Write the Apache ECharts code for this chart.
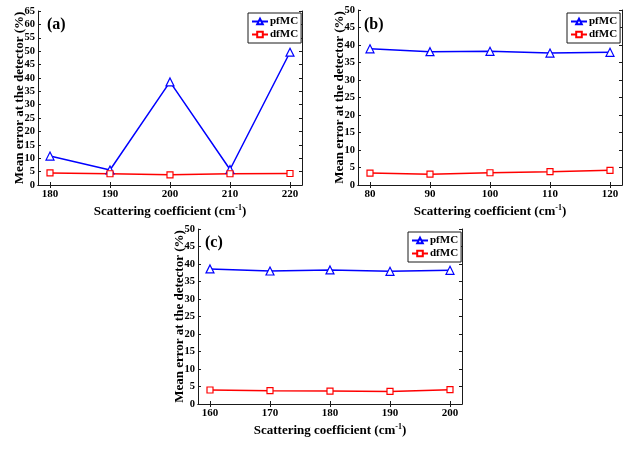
<!DOCTYPE html>
<html>
<head>
<meta charset="utf-8">
<script src="https://cdn.jsdelivr.net/npm/echarts@6/dist/echarts.min.js"></script>
<style>html,body{margin:0;padding:0;background:#fff}#c{width:635px;height:454px}</style>
</head>
<body>
<div id="c"></div>
<script>
// ---- data ----
var xA = [180, 190, 200, 210, 220];
var xB = [80, 90, 100, 110, 120];
var xC = [160, 170, 180, 190, 200];
var pfA = [10.8, 5.6, 38.5, 5.8, 49.6];
var dfA = [4.5, 4.2, 3.8, 4.2, 4.3];
var pfB = [38.9, 38.1, 38.2, 37.7, 37.9];
var dfB = [3.4, 3.1, 3.5, 3.8, 4.2];
var pfC = [38.6, 38.0, 38.3, 37.9, 38.2];
var dfC = [4.0, 3.8, 3.7, 3.6, 4.1];
var yTicksA = [0,5,10,15,20,25,30,35,40,45,50,55,60,65];
var yTicksBC = [0,5,10,15,20,25,30,35,40,45,50];
var panelLabels = ['(a)', '(b)', '(c)'];
var xTitle = 'Scattering coefficient (cm{sup|-1})';
var yTitle = 'Mean error at the detector (%)';

var FONT = '"Liberation Serif", "Times New Roman", serif';
var AX = '#1a1a1a';

function pairs(xs, ys) { return xs.map(function (x, i) { return [x, ys[i]]; }); }

var panels = [
  {xs: xA, pf: pfA, df: dfA, xmin: 178, xmax: 222, ymax: 65, yt: yTicksA,
   grid: {left: 38, top: 11, width: 264, height: 174}, leg: {left: 248, top: 13}, lab: {left: 47, top: 17}},
  {xs: xB, pf: pfB, df: dfB, xmin: 78, xmax: 122, ymax: 50, yt: yTicksBC,
   grid: {left: 358, top: 10, width: 264, height: 175}, leg: {left: 567, top: 13}, lab: {left: 364, top: 17}},
  {xs: xC, pf: pfC, df: dfC, xmin: 158, xmax: 202, ymax: 50, yt: yTicksBC,
   grid: {left: 198, top: 229, width: 264, height: 175}, leg: {left: 408, top: 232}, lab: {left: 205, top: 235}}
];

var grids = [], xAxes = [], yAxes = [], series = [], legends = [], titles = [];
panels.forEach(function (p, i) {
  grids.push(Object.assign({containLabel: false}, p.grid));
  var tick = {show: true, inside: true, length: 3, lineStyle: {color: AX, width: 1}};
  xAxes.push({
    type: 'value', gridIndex: i, min: p.xmin, max: p.xmax, position: 'bottom',
    axisLine: {show: true, lineStyle: {color: AX, width: 1}},
    axisTick: Object.assign({customValues: p.xs}, tick),
    axisLabel: {customValues: p.xs, color: '#000', fontFamily: FONT, fontWeight: 'bold', fontSize: 11, margin: 4},
    splitLine: {show: false},
    name: xTitle, nameLocation: 'middle', nameGap: 19, nameMoveOverlap: false,
    nameTextStyle: {color: '#000', fontFamily: FONT, fontWeight: 'bold', fontSize: 13,
      rich: {sup: {fontFamily: FONT, fontWeight: 'bold', fontSize: 8, color: '#000', verticalAlign: 'top', padding: [0, 0, 7, 0]}}}
  });
  xAxes.push({
    type: 'value', gridIndex: i, min: p.xmin, max: p.xmax, position: 'top',
    axisLine: {show: true, lineStyle: {color: AX, width: 1}},
    axisTick: Object.assign({customValues: p.xs}, tick),
    axisLabel: {show: false}, splitLine: {show: false}
  });
  yAxes.push({
    type: 'value', gridIndex: i, min: 0, max: p.ymax, interval: 5, position: 'left',
    axisLine: {show: true, lineStyle: {color: AX, width: 1}},
    axisTick: tick,
    axisLabel: {color: '#000', fontFamily: FONT, fontWeight: 'bold', fontSize: 10.5, margin: 3},
    splitLine: {show: false},
    name: yTitle, nameLocation: 'middle', nameGap: 12, nameRotate: 90, nameMoveOverlap: false,
    nameTextStyle: {color: '#000', fontFamily: FONT, fontWeight: 'bold', fontSize: 13}
  });
  yAxes.push({
    type: 'value', gridIndex: i, min: 0, max: p.ymax, interval: 5, position: 'right',
    axisLine: {show: true, lineStyle: {color: AX, width: 1}},
    axisTick: tick, axisLabel: {show: false}, splitLine: {show: false}
  });
  series.push({
    name: 'pfMC', type: 'line', xAxisIndex: 2 * i, yAxisIndex: 2 * i, data: pairs(p.xs, p.pf),
    symbol: 'triangle', symbolSize: 8, showAllSymbol: true,
    lineStyle: {color: '#0000ff', width: 1.5},
    itemStyle: {color: '#ffffff', borderColor: '#0000ff', borderWidth: 1.2}
  });
  series.push({
    name: 'dfMC', type: 'line', xAxisIndex: 2 * i, yAxisIndex: 2 * i, data: pairs(p.xs, p.df),
    symbol: 'rect', symbolSize: 6, showAllSymbol: true,
    lineStyle: {color: '#ff0000', width: 1.5},
    itemStyle: {color: '#ffffff', borderColor: '#ff0000', borderWidth: 1.2}
  });
  legends.push({
    data: ['pfMC', 'dfMC'], orient: 'vertical', left: p.leg.left, top: p.leg.top,
    backgroundColor: '#fff', borderColor: AX, borderWidth: 1, padding: [3, 3, 3, 3],
    itemGap: 2, itemWidth: 16, itemHeight: 7, selectedMode: false,
    textStyle: {color: '#000', fontFamily: FONT, fontWeight: 'bold', fontSize: 11, padding: [0, 0, 0, -3]}
  });
  titles.push({
    text: panelLabels[i], left: p.lab.left, top: p.lab.top, padding: 0,
    textStyle: {color: '#000', fontFamily: FONT, fontWeight: 'bold', fontSize: 16}
  });
});

var chart = echarts.init(document.getElementById('c'), null, {renderer: 'canvas'});
chart.setOption({
  animation: false,
  backgroundColor: '#fff',
  title: titles,
  grid: grids,
  xAxis: xAxes,
  yAxis: yAxes,
  legend: legends,
  series: series
});
</script>
</body>
</html>
